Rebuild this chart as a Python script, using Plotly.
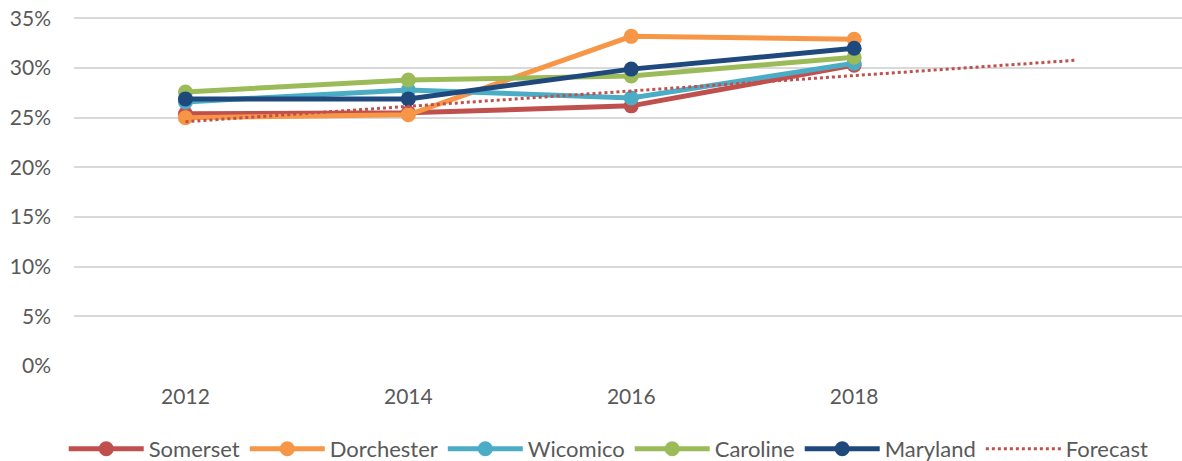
import plotly.graph_objects as go

years = [2012, 2014, 2016, 2018]
somerset = [25.4, 25.5, 26.2, 30.3]
dorchester = [25.0, 25.3, 33.2, 32.9]
wicomico = [26.6, 27.8, 27.0, 30.5]
caroline = [27.6, 28.8, 29.2, 31.1]
maryland = [26.9, 26.9, 29.9, 32.0]
forecast_years = [2012, 2020]
forecast_values = [24.6, 30.8]
tick_years = [2012, 2014, 2016, 2018]
y_ticks = [0, 5, 10, 15, 20, 25, 30, 35]
y_tick_labels = ["0%", "5%", "10%", "15%", "20%", "25%", "30%", "35%"]

series = [
    ("Somerset", somerset, "#C0504D"),
    ("Dorchester", dorchester, "#F79646"),
    ("Wicomico", wicomico, "#4BACC6"),
    ("Caroline", caroline, "#9BBB59"),
    ("Maryland", maryland, "#1F497D"),
]

fig = go.Figure()
for name, vals, color in series:
    fig.add_trace(go.Scatter(
        x=years, y=vals, name=name, mode="lines+markers",
        line=dict(color=color, width=5),
        marker=dict(color=color, size=15),
    ))
fig.add_trace(go.Scatter(
    x=forecast_years, y=forecast_values, name="Forecast", mode="lines",
    line=dict(color="#C0504D", width=3, dash="dot"),
))

font = dict(family="Lato, Open Sans, sans-serif", size=21, color="#595959")
legend_font = dict(family="Lato, Open Sans, sans-serif", size=22, color="#595959")
fig.update_layout(
    width=1182, height=461,
    margin=dict(l=73.5, r=0, t=15.8, b=95.2, autoexpand=False),
    paper_bgcolor="white", plot_bgcolor="white",
    font=font,
    showlegend=True,
    legend=dict(orientation="h", x=0.515, xref="container", xanchor="center",
                y=0.026, yref="container", yanchor="middle",
                font=legend_font, itemwidth=75, tracegroupgap=0),
    xaxis=dict(range=[2011, 2011 + 1108.5 / 111.5], tickvals=tick_years,
               ticktext=[str(y) for y in tick_years],
               showgrid=False, zeroline=False, showline=False, ticks="",
               ticklabelstandoff=16, automargin=False),
    yaxis=dict(range=[0, 35.25], tickvals=y_ticks, ticktext=y_tick_labels,
               showgrid=True, gridcolor="#D9D9D9", gridwidth=1.5,
               zeroline=False, showline=False, ticks="",
               ticklabelstandoff=22, ticklabeloverflow="allow",
               automargin=False),
)
fig.write_html("out.html", config={"displayModeBar": False},
               post_script="document.body.style.margin='0';")
